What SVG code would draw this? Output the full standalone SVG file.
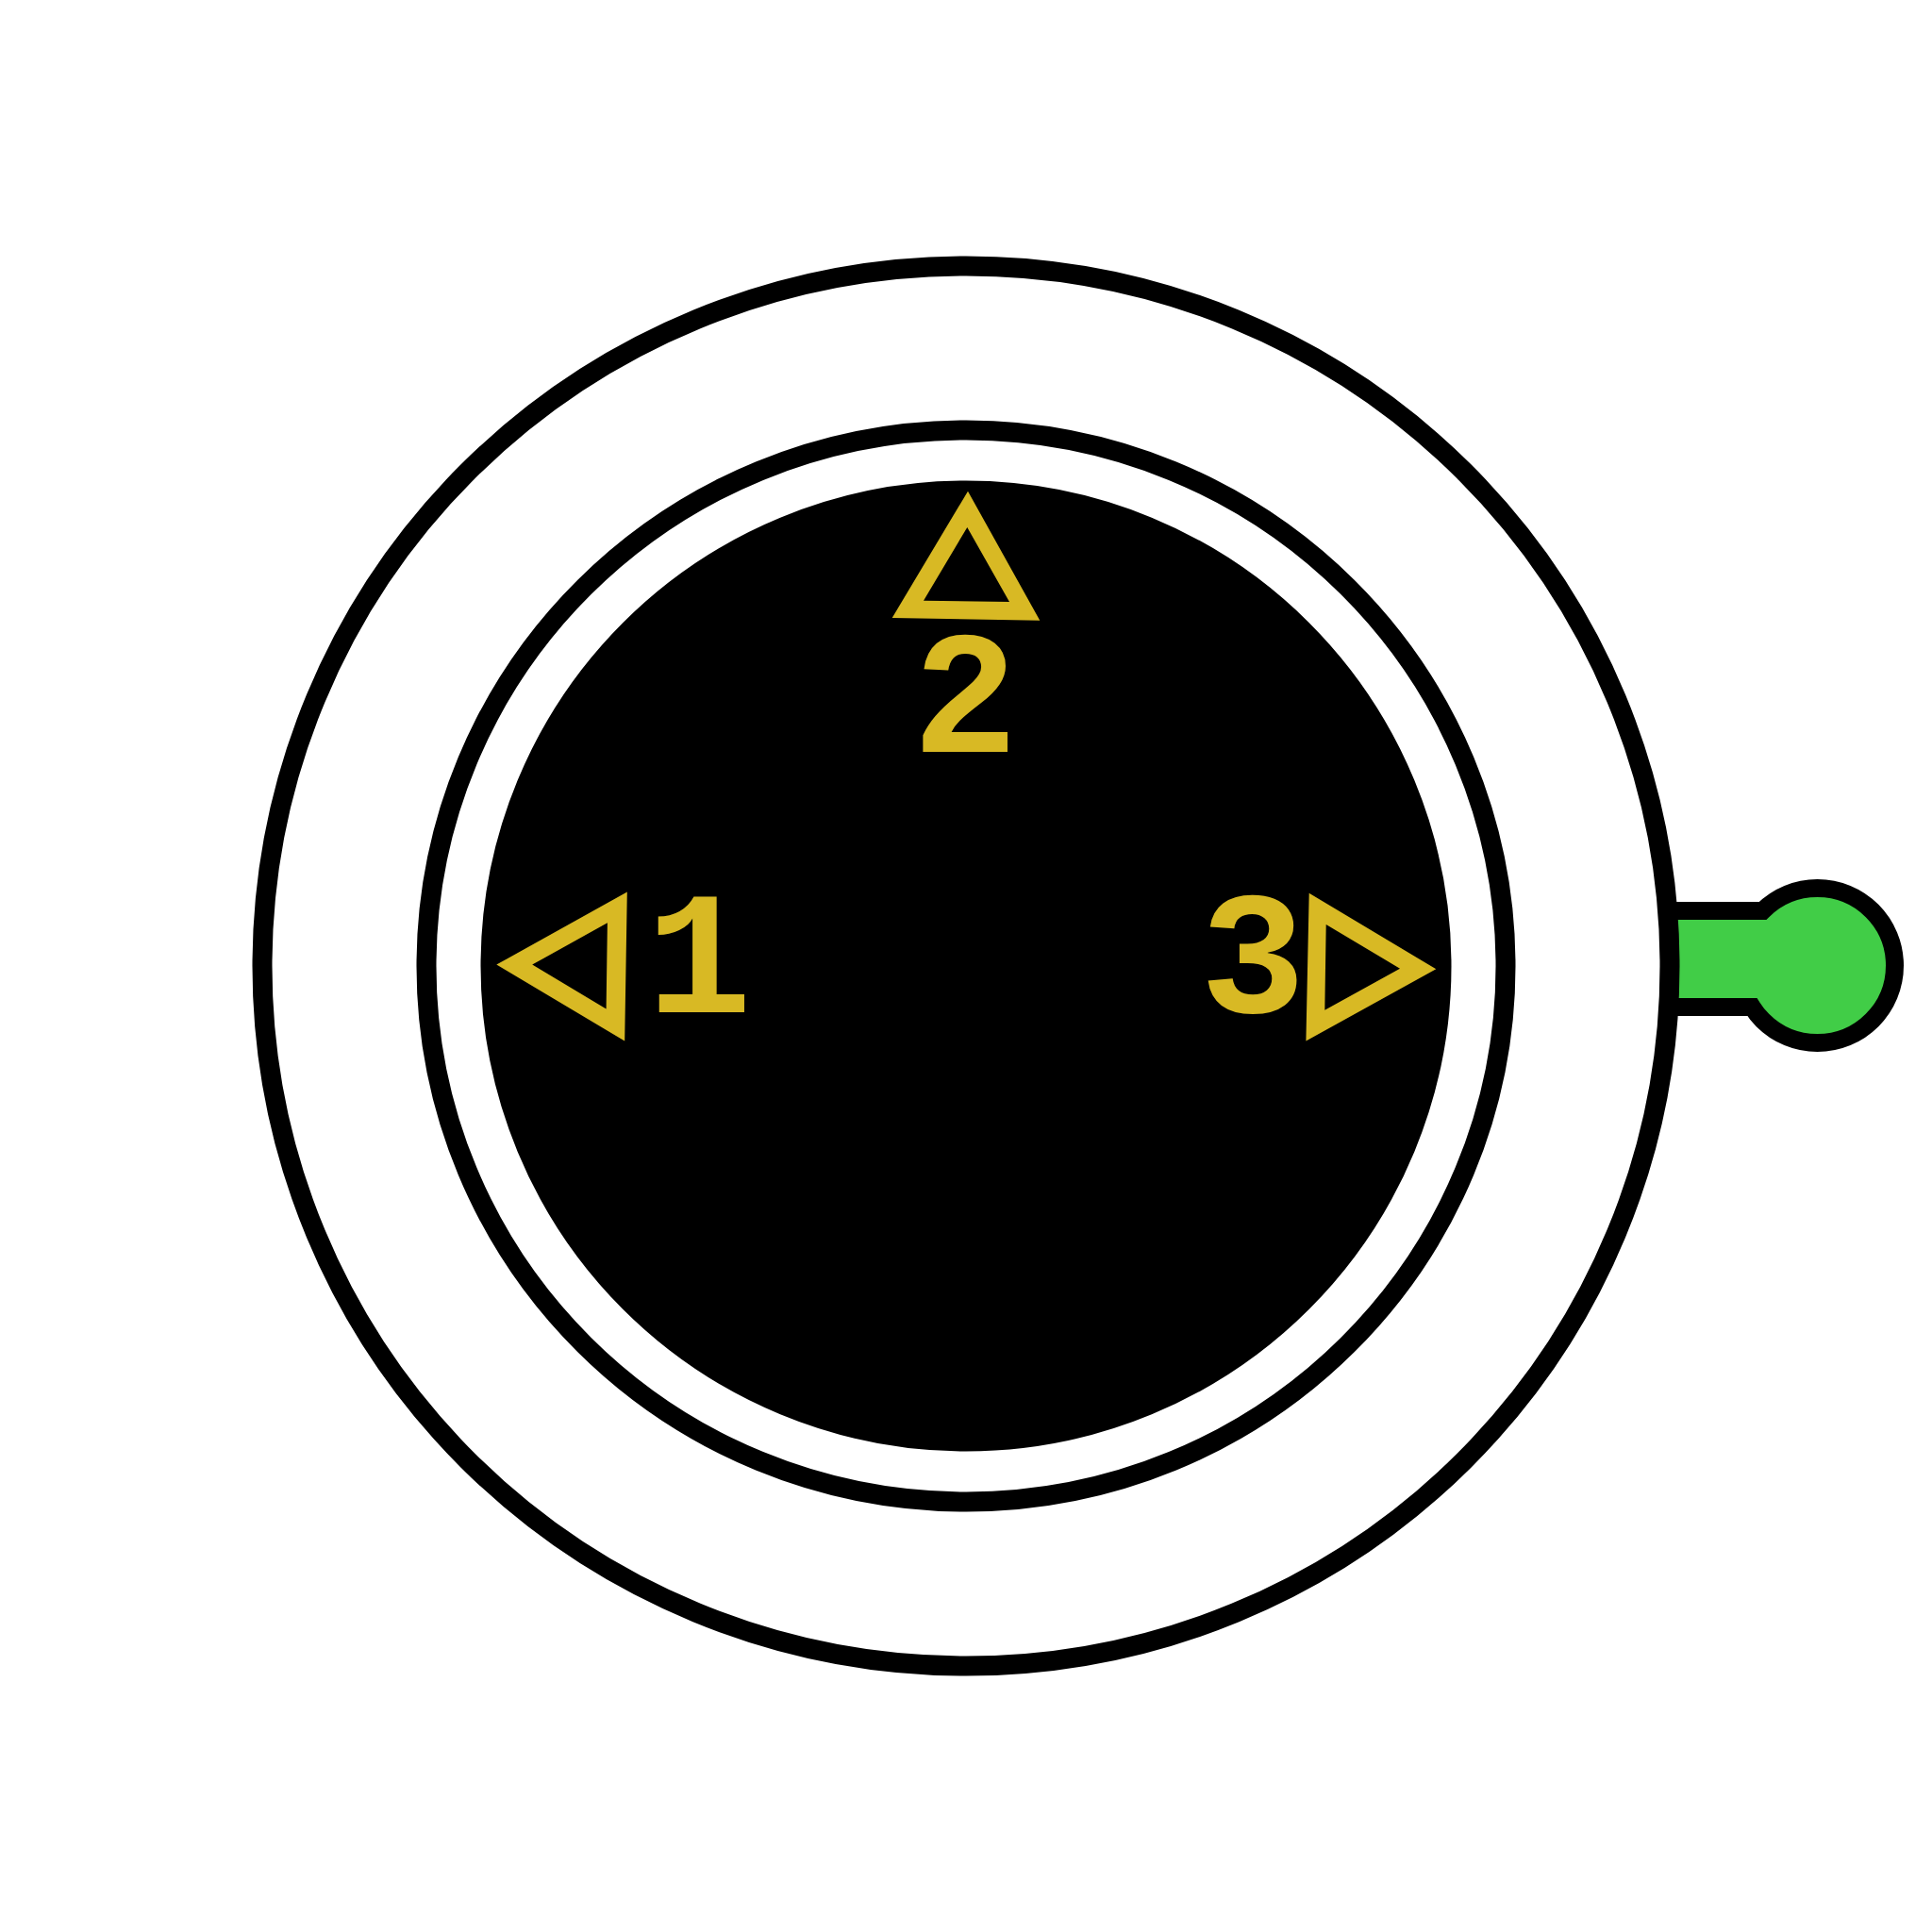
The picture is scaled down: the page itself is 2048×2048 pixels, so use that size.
<svg xmlns="http://www.w3.org/2000/svg" width="2048" height="2048" viewBox="0 0 2048 2048">
<style>
.ln{stroke:#000;stroke-width:21;stroke-linejoin:round;}
.yl{fill:#d8b924;fill-rule:evenodd;}
.lb{font-family:"Liberation Mono",monospace;font-weight:bold;font-size:186px;fill:#d8b924;text-anchor:middle;}
</style>
<rect width="2048" height="2048" fill="#fff"/>
<g id="tab">
<path class="ln" style="stroke-width:19;stroke-linejoin:miter" fill="#41cd47" d="M1700 965.5 H1868.5 A82 82 0 0 1 1926.5 941.5 A82 82 0 0 1 1984.5 965.5 A82 82 0 0 1 2008.5 1023.5 A82 82 0 0 1 1984.5 1081.5 A82 82 0 0 1 1926.5 1105.5 A82 82 0 0 1 1868.5 1081.5 A82 82 0 0 1 1857.3 1067.5 H1700 Z"/>
</g>
<g id="outer">
<path class="ln" fill="#fff" d="M1770 1024 A746 742 0 0 1 1713.2 1307.9 A746 742 0 0 1 1551.5 1548.7 A746 742 0 0 1 1309.5 1709.5 A746 742 0 0 1 1024 1766 A746 742 0 0 1 738.5 1709.5 A746 742 0 0 1 496.5 1548.7 A746 742 0 0 1 334.8 1307.9 A746 742 0 0 1 278 1024 A746 742 0 0 1 334.8 740.1 A746 742 0 0 1 496.5 499.3 A746 742 0 0 1 738.5 338.5 A746 742 0 0 1 1024 282 A746 742 0 0 1 1309.5 338.5 A746 742 0 0 1 1551.5 499.3 A746 742 0 0 1 1713.2 740.1 A746 742 0 0 1 1770 1024 Z"/>
</g>
<g id="middle">
<path class="ln" fill="#fff" d="M1596 1024 A572 568 0 0 1 1552.5 1241.4 A572 568 0 0 1 1428.5 1425.6 A572 568 0 0 1 1242.9 1548.8 A572 568 0 0 1 1024 1592 A572 568 0 0 1 805.1 1548.8 A572 568 0 0 1 619.5 1425.6 A572 568 0 0 1 495.5 1241.4 A572 568 0 0 1 452 1024 A572 568 0 0 1 495.5 806.6 A572 568 0 0 1 619.5 622.4 A572 568 0 0 1 805.1 499.2 A572 568 0 0 1 1024 456 A572 568 0 0 1 1242.9 499.2 A572 568 0 0 1 1428.5 622.4 A572 568 0 0 1 1552.5 806.6 A572 568 0 0 1 1596 1024 Z"/>
</g>
<g id="inner">
<path fill="#000" d="M1538.5 1024 A514.5 514.5 0 0 1 1499.3 1220.9 A514.5 514.5 0 0 1 1387.8 1387.8 A514.5 514.5 0 0 1 1220.9 1499.3 A514.5 514.5 0 0 1 1024 1538.5 A514.5 514.5 0 0 1 827.1 1499.3 A514.5 514.5 0 0 1 660.2 1387.8 A514.5 514.5 0 0 1 548.7 1220.9 A514.5 514.5 0 0 1 509.5 1024 A514.5 514.5 0 0 1 548.7 827.1 A514.5 514.5 0 0 1 660.2 660.2 A514.5 514.5 0 0 1 827.1 548.7 A514.5 514.5 0 0 1 1024 509.5 A514.5 514.5 0 0 1 1220.9 548.7 A514.5 514.5 0 0 1 1387.8 660.2 A514.5 514.5 0 0 1 1499.3 827.1 A514.5 514.5 0 0 1 1538.5 1024 Z"/>
</g>
<g id="pin2">
<path class="yl" d="M1026 520.7 L945.7 655 L1102.3 657.7 Z M1025.3 559 L979 636.7 L1070 638 Z"/>
<text class="lb" x="1023" y="797">2</text>
</g>
<g id="pin1">
<path class="yl" d="M526.3 1022.6 L664.8 945.6 L662.2 1103.6 Z M564.2 1022.6 L643.9 978.2 L642.6 1069.6 Z"/>
<text class="lb" x="741" y="1072.7">1</text>
</g>
<g id="pin3">
<path class="yl" d="M1522.3 1027.3 L1387.7 946.7 L1384.4 1103.6 Z M1484 1026.7 L1405.7 980 L1404.3 1070.7 Z"/>
<text class="lb" x="1328" y="1073">3</text>
</g>
</svg>
